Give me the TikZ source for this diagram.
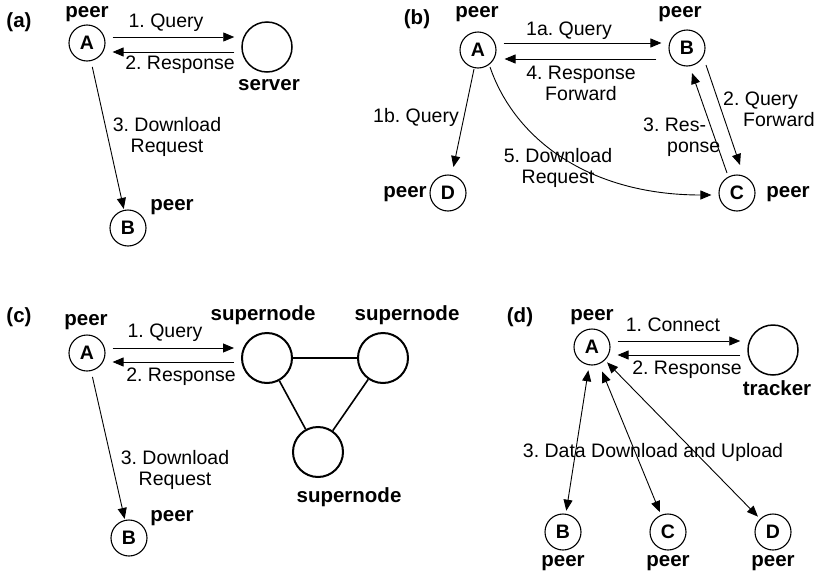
\documentclass[tikz,border=0pt]{standalone}
\usepackage{fontspec}
\setmainfont{Liberation Sans}
\usetikzlibrary{arrows.meta,calc}
\frenchspacing

\begin{document}
\begin{tikzpicture}
  [x=1pt,y=-1pt,
   every node/.style={inner sep=0pt,font=\fontsize{19.5}{21}\selectfont},
   peer/.style={circle,draw,line width=1.1pt,minimum size=36pt,font=\fontsize{19.5}{21}\selectfont\bfseries},
   host/.style={circle,draw,line width=1.5pt,minimum size=50pt},
   super/.style={circle,draw,line width=2pt,minimum size=50pt},
   tag/.style={font=\fontsize{20.5}{22}\selectfont\bfseries},
   msg/.style={align=center},
   arr/.style={-{Triangle[length=11pt,width=9pt]},line width=0.9pt},
   dbl/.style={{Triangle[length=11pt,width=9pt]}-{Triangle[length=11pt,width=9pt]},line width=0.9pt},
   link/.style={line width=1.6pt}]

  \useasboundingbox (0,0) rectangle (815,576);

  % (a) client/server
  \node[tag] (a-lbl) at (19,22) {(a)};
  \node[peer] (a-A) at (87,43) {A};
  \node[peer] (a-B) at (128,228) {B};
  \node[host] (a-S) at (267,47) {};
  \node[tag] (a-pA) at (87,14) {peer};
  \node[tag] (a-pB) at (172,207) {peer};
  \node[tag] (a-sv) at (269,85) {server};
  \node (a-q) at (166,23) {1. Query};
  \node (a-r) at (180,65) {2. Response};
  \node[msg] (a-d) at (167,137) {3. Download\\Request};
  \draw[arr] ($(a-A.east)+(7,-6)$) -- ($(a-S.west)+(-7,-10)$);
  \draw[arr] ($(a-S.west)+(-7,5)$) -- ($(a-A.east)+(7,9)$);
  \draw[arr,shorten <=6pt,shorten >=1pt] (a-A) -- (a-B);

  % (b) flooding
  \node[tag] (b-lbl) at (417,19) {(b)};
  \node[peer] (b-A) at (478,50) {A};
  \node[peer] (b-B) at (687,48) {B};
  \node[peer] (b-C) at (737,193) {C};
  \node[peer] (b-D) at (448,193) {D};
  \node[tag] (b-pA) at (477,14) {peer};
  \node[tag] (b-pB) at (680,14) {peer};
  \node[tag] (b-pC) at (788,194) {peer};
  \node[tag] (b-pD) at (405,194) {peer};
  \node (b-q) at (569,31) {1a. Query};
  \node (b-q2) at (416,117) {1b. Query};
  \node[msg] (b-r) at (581,83) {4. Response\\Forward};
  \node[align=left,anchor=west] (b-f) at (723,109) {2. Query\\\hspace*{20pt}Forward};
  \node[align=left,anchor=west] (b-rs) at (643,137) {3. Res-\\\hspace*{24pt}ponse};
  \node[msg] (b-d) at (558,168) {5. Download\\Request};
  \draw[arr] ($(b-A.east)+(7,-7)$) -- ($(b-B.west)+(-7,-5)$);
  \draw[arr] ($(b-B.west)+(-12,11)$) -- ($(b-A.east)+(8,9)$);
  \draw[arr,shorten <=1pt,shorten >=8pt] (b-A) -- (b-D);
  \draw[arr] ($(b-B)+(19,17)$) -- ($(b-C)+(3,-28)$);
  \draw[arr] ($(b-C)+(-10,-20)$) -- ($(b-B)+(5,25)$);
  \draw[arr] ($(b-A)+(12,17)$) .. controls (515,140) and (590,195) .. ($(b-C.west)+(-7,2)$);

  % (c) supernodes
  \node[tag] (c-lbl) at (19,317) {(c)};
  \node[peer] (c-A) at (87,353) {A};
  \node[peer] (c-B) at (129,538) {B};
  \node[super] (c-S1) at (267,358) {};
  \node[super] (c-S2) at (383,358) {};
  \node[super] (c-S3) at (318,452) {};
  \node[tag] (c-pA) at (86,322) {peer};
  \node[tag] (c-pB) at (172,518) {peer};
  \node[tag] (c-s1) at (263,315) {supernode};
  \node[tag] (c-s2) at (407,315) {supernode};
  \node[tag] (c-s3) at (349,497) {supernode};
  \node (c-q) at (165,333) {1. Query};
  \node (c-r) at (181,377) {2. Response};
  \node[msg] (c-d) at (175,470) {3. Download\\Request};
  \draw[arr] ($(c-A.east)+(7,-5)$) -- ($(c-S1.west)+(-7,-10)$);
  \draw[arr] ($(c-S1.west)+(-7,4)$) -- ($(c-A.east)+(7,9)$);
  \draw[arr,shorten <=6pt,shorten >=1pt] (c-A) -- (c-B);
  \foreach \from/\to in {c-S1/c-S2,c-S1/c-S3,c-S2/c-S3}
    \draw[link] (\from) -- (\to);

  % (d) tracker
  \node[tag] (d-lbl) at (520,317) {(d)};
  \node[peer] (d-A) at (592,347) {A};
  \node[peer] (d-B) at (563,532) {B};
  \node[peer] (d-C) at (668,532) {C};
  \node[peer] (d-D) at (773,532) {D};
  \node[host] (d-T) at (773,350) {};
  \node[tag] (d-pA) at (592,317) {peer};
  \node[tag] (d-pB) at (563,563) {peer};
  \node[tag] (d-pC) at (668,563) {peer};
  \node[tag] (d-pD) at (773,563) {peer};
  \node[tag] (d-tr) at (777,388) {tracker};
  \node (d-c) at (673,325) {1. Connect};
  \node (d-r) at (687,370) {2. Response};
  \node (d-x) at (653,452) {3. Data Download and Upload};
  \draw[arr] ($(d-A.east)+(7,-6)$) -- ($(d-T.west)+(-7,-9)$);
  \draw[arr] ($(d-T.west)+(-7,5)$) -- ($(d-A.east)+(7,8)$);
  \foreach \to/\gap in {d-B/5pt,d-C/8pt,d-D/3pt}
    \draw[dbl,shorten <=\gap,shorten >=3pt] (d-A) -- (\to);
\end{tikzpicture}
\end{document}
